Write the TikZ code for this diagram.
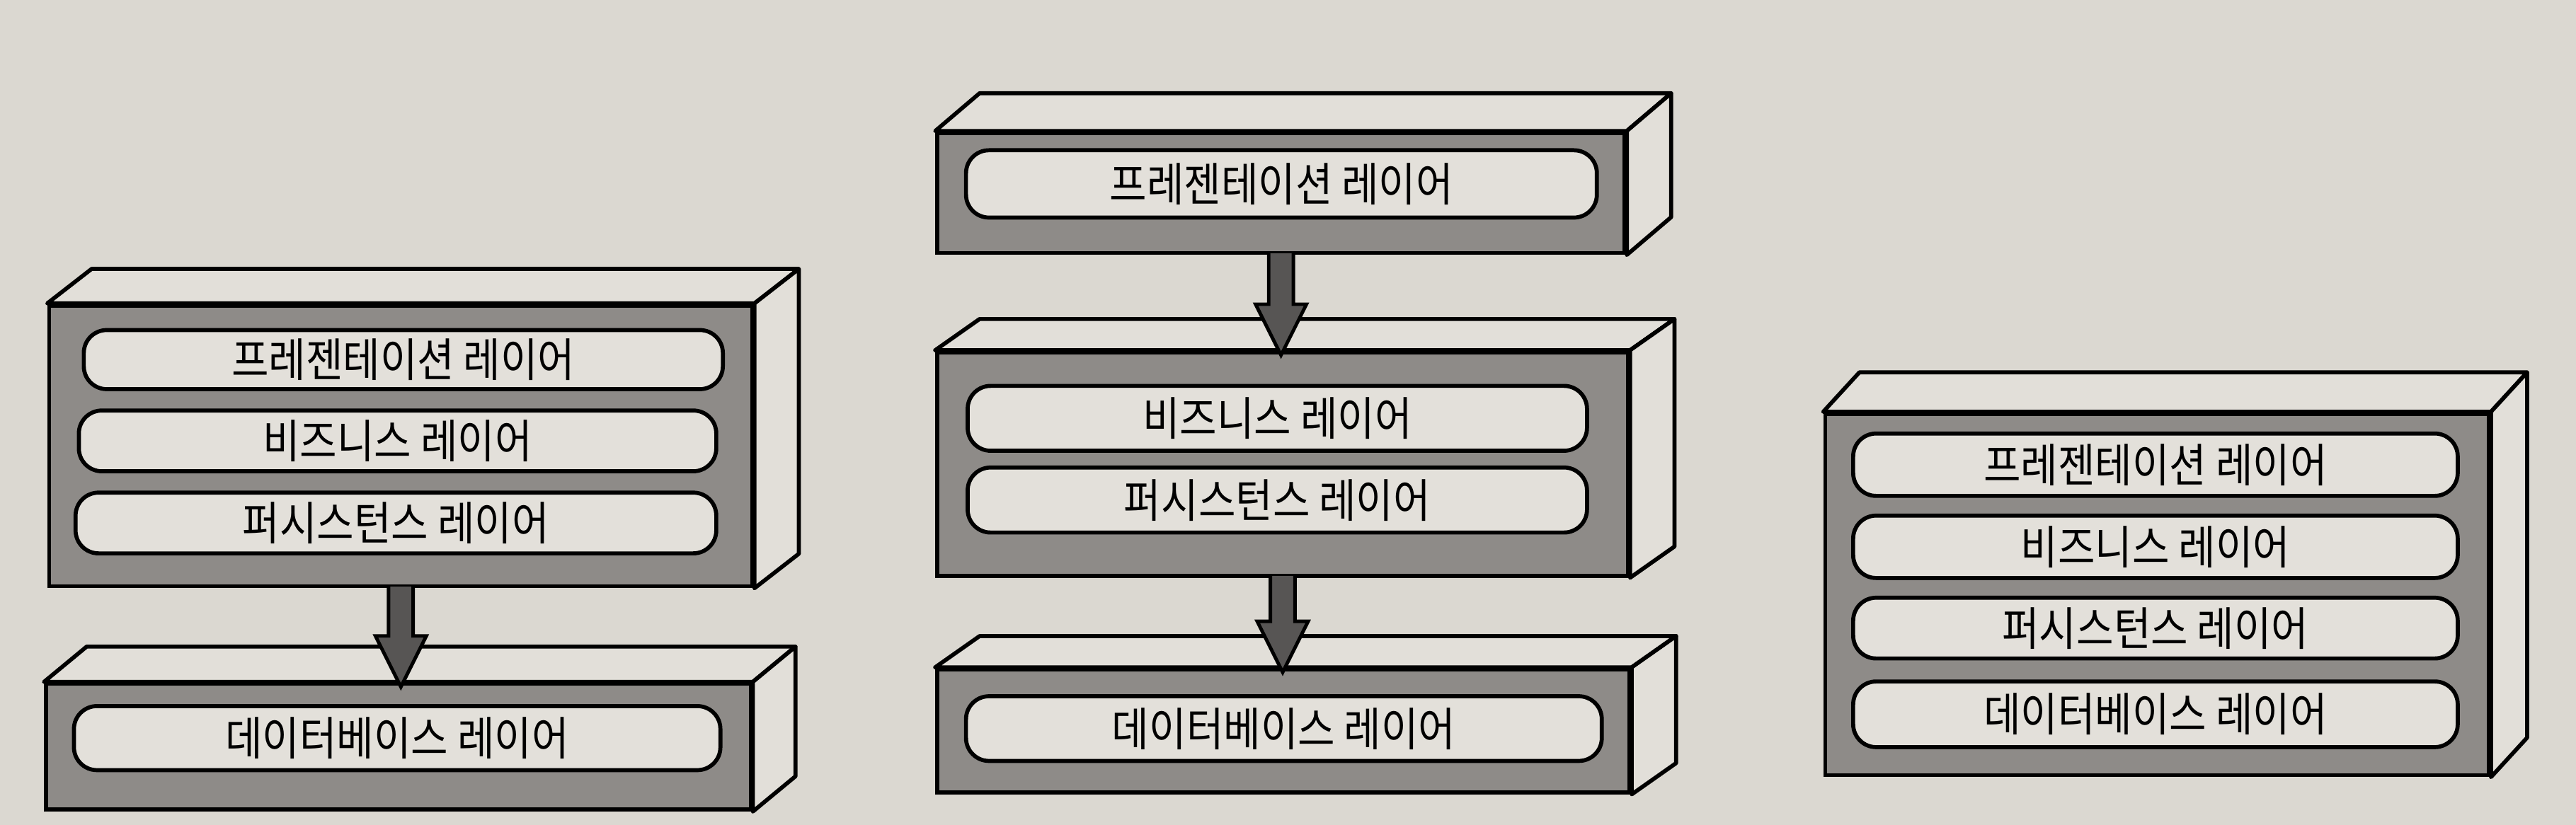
\documentclass[tikz,border=0pt]{standalone}
\usepackage{fontspec}
\usepackage{graphicx}
\setmainfont{Noto Sans CJK KR}
\usetikzlibrary{calc,fit}
\definecolor{paper}{HTML}{DBD8D1}
\definecolor{facegray}{HTML}{8E8B88}
\definecolor{sidelight}{HTML}{E2DFD9}
\definecolor{layerfill}{HTML}{E3E0DA}
\definecolor{arrowgray}{HTML}{575554}
\tikzset{
 frontface/.style={draw=black, line width=1.4pt, fill=facegray, inner sep=0pt},
 sideface/.style={draw=black, line width=1.4pt, fill=sidelight, line join=round},
 layerbox/.style={draw=black, line width=1.4pt, fill=layerfill, rounded corners=0.28cm, inner sep=0pt},
 layertext/.style={inner sep=0pt, font=\fontsize{14}{16}\selectfont},
 fatarrow/.style={draw=black, line width=1.2pt, fill=arrowgray, line join=miter},
}
\newcommand\boxfaces[3]{%
 \draw[sideface] (#1.north west) -- ++(#2,#3) -- ($(#1.north east)+(#2,#3)$) -- (#1.north east) -- cycle;
 \draw[sideface] (#1.north east) -- ++(#2,#3) -- ($(#1.south east)+(#2,#3)$) -- (#1.south east) -- cycle;}
\newcommand\layer[4]{% name, corner1, corner2, text
 \node[layerbox, fit={#2 #3}] (#1) {};
 \node[layertext] (#1t) at (#1.center) {\scalebox{1}[1.14]{#4}};}
\newcommand\layerarrow[2]{%
 \coordinate (s#1) at (#1.south);
 \coordinate (t#1) at ($(#1.south |- #2.north)+(0,3)$);
 \draw[fatarrow] ($(s#1)+(-7.5,-1)$) -- ($(t#1)+(-7.5,-31)$) -- ($(t#1)+(-15.5,-31)$) -- (t#1) -- ($(t#1)+(15.5,-31)$) -- ($(t#1)+(7.5,-31)$) -- ($(s#1)+(7.5,-1)$);}
\begin{document}
\begin{tikzpicture}[x=0.02cm, y=-0.02cm]
\fill[paper] (0,0) rectangle (1568,502.4);
\useasboundingbox (0,0) rectangle (1568,502.4);
% left stack
\node[frontface, fit={(30,186) (458,357)}] (LU) {};
\boxfaces{LU}{27}{-21}
\layer{LU1}{(51,201)}{(440,237)}{프레젠테이션 레이어}
\layer{LU2}{(48,250)}{(436,287)}{비즈니스 레이어}
\layer{LU3}{(46,300)}{(436,337)}{퍼시스턴스 레이어}
\node[frontface, fit={(28,416.5) (457,493)}] (LD) {};
\boxfaces{LD}{26}{-21.5}
\layer{LD1}{(45,430)}{(438.5,469)}{데이터베이스 레이어}
% middle stack
\node[frontface, fit={(570.5,81) (989,154)}] (MT) {};
\boxfaces{MT}{27}{-23}
\layer{MT1}{(588,91.5)}{(972,132.5)}{프레젠테이션 레이어}
\node[frontface, fit={(570.5,214.5) (991,350.6)}] (MM) {};
\boxfaces{MM}{27}{-19}
\layer{MM1}{(589,235)}{(966,274.5)}{비즈니스 레이어}
\layer{MM2}{(589,284.7)}{(966,324.3)}{퍼시스턴스 레이어}
\node[frontface, fit={(570.5,407.6) (992,482.5)}] (MB) {};
\boxfaces{MB}{27}{-19}
\layer{MB1}{(588,424)}{(975,463.4)}{데이터베이스 레이어}
% right stack
\node[frontface, fit={(1111,252) (1515,472)}] (R) {};
\boxfaces{R}{22}{-24}
\layer{R1}{(1128,264)}{(1496,302)}{프레젠테이션 레이어}
\layer{R2}{(1128,314)}{(1496,352)}{비즈니스 레이어}
\layer{R3}{(1128,364)}{(1496,401)}{퍼시스턴스 레이어}
\layer{R4}{(1128,415)}{(1496,455)}{데이터베이스 레이어}
% arrows
\layerarrow{LU}{LD}
\layerarrow{MT}{MM}
\layerarrow{MM}{MB}
\end{tikzpicture}
\end{document}
